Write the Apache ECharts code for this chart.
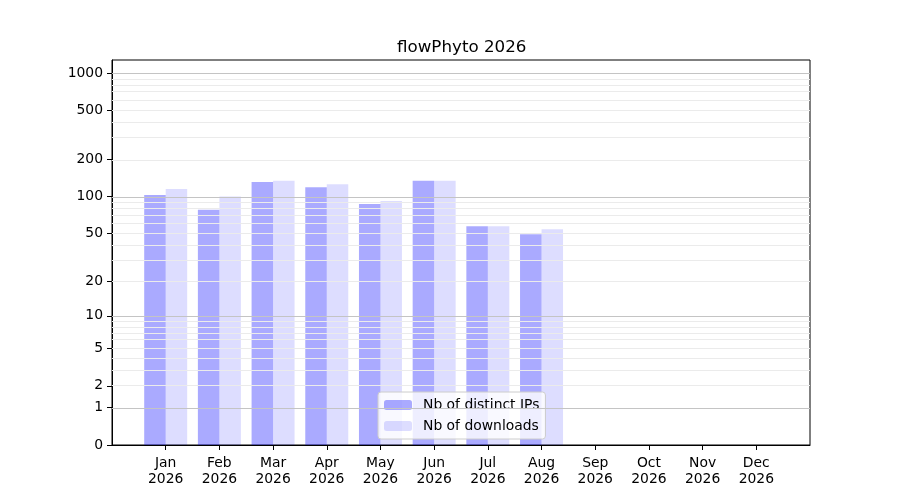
<!DOCTYPE html>
<html>
<head>
<meta charset="utf-8">
<script src="https://cdn.jsdelivr.net/npm/echarts@6/dist/echarts.min.js"></script>
<style>
  html, body { margin: 0; padding: 0; background: #fff; }
  #main { width: 900px; height: 500px; }
</style>
</head>
<body>
<div id="main"></div>
<script>
// data
const months = ['Jan', 'Feb', 'Mar', 'Apr', 'May', 'Jun', 'Jul', 'Aug', 'Sep', 'Oct', 'Nov', 'Dec'];
const year = '2026';
const distinctIPs = [103, 78, 131, 119, 87, 134, 57, 49];
const downloads = [115, 100, 134, 126, 92, 134, 57, 54];
const yTicks = [0, 1, 2, 5, 10, 20, 50, 100, 200, 500, 1000];
const majorGrid = [1, 10, 100, 1000];
const minorGrid = [2, 3, 4, 5, 6, 7, 8, 9, 20, 30, 40, 50, 60, 70, 80, 90,
                   200, 300, 400, 500, 600, 700, 800, 900];

// y axis is log10(1 + v)
const tr = v => Math.log10(1 + v);
const untr = t => Math.round(Math.pow(10, t) - 1);

const font = 'DejaVu Sans';
const chart = echarts.init(document.getElementById('main'));

const gridLines = [];
minorGrid.forEach(v => gridLines.push({ yAxis: tr(v), lineStyle: { color: '#ebebeb', width: 1, type: 'solid' } }));
majorGrid.forEach(v => gridLines.push({ yAxis: tr(v), lineStyle: { color: '#c4c4c4', width: 1, type: 'solid' } }));

const option = {
    animation: false,
    title: {
        text: 'flowPhyto ' + year,
        left: 392,
        top: 34,
        textStyle: { fontFamily: font, fontSize: 16.7, fontWeight: 'normal', color: '#000' }
    },
    grid: {
        left: 112, right: 90, top: 60, bottom: 55,
        show: true, borderColor: '#000', borderWidth: 1, backgroundColor: 'transparent'
    },
    legend: {
        orient: 'vertical',
        left: 378,
        top: 392,
        itemWidth: 28,
        itemHeight: 10,
        itemGap: 7,
        padding: [6, 6, 6, 6],
        borderColor: '#cccccc',
        borderWidth: 1,
        borderRadius: 3,
        backgroundColor: 'rgba(255,255,255,0.8)',
        textStyle: { fontFamily: font, fontSize: 13.9, color: '#000', padding: [0, 0, 0, 6] },
        data: ['Nb of distinct IPs', 'Nb of downloads']
    },
    xAxis: {
        type: 'value',
        min: -1,
        max: 12,
        interval: 1,
        splitLine: { show: false },
        axisLine: { show: true, onZero: false, lineStyle: { color: '#000' } },
        axisTick: { show: true, length: 5, lineStyle: { color: '#000' }, customValues: months.map((m, i) => i) },
        axisLabel: {
            customValues: months.map((m, i) => i),
            fontFamily: font, fontSize: 13.9, color: '#000', lineHeight: 16, margin: 10,
            formatter: v => months[v] + '\n' + year
        }
    },
    yAxis: {
        type: 'value',
        min: 0,
        max: 3.105,
        splitLine: { show: false },
        axisLine: { show: true, onZero: false, lineStyle: { color: '#000' } },
        axisTick: { show: true, length: 5, lineStyle: { color: '#000' }, customValues: yTicks.map(tr) },
        axisLabel: {
            customValues: yTicks.map(tr),
            fontFamily: font, fontSize: 13.9, color: '#000', margin: 9,
            formatter: v => String(untr(v))
        }
    },
    series: [
        {
            name: 'grid',
            type: 'line',
            z: 1,
            silent: true,
            data: [],
            markLine: { silent: true, symbol: 'none', label: { show: false }, animation: false, data: gridLines }
        },
        {
            name: 'Nb of distinct IPs',
            type: 'bar',
            z: 2,
            barWidth: 21.5,
            barGap: '0%',
            itemStyle: { color: 'rgba(0,0,255,0.333)' },
            data: distinctIPs.map((v, i) => [i, tr(v)])
        },
        {
            name: 'Nb of downloads',
            type: 'bar',
            z: 2,
            barWidth: 21.5,
            barGap: '0%',
            itemStyle: { color: 'rgba(0,0,255,0.133)' },
            data: downloads.map((v, i) => [i, tr(v)])
        }
    ]
};
chart.setOption(option);
</script>
</body>
</html>
